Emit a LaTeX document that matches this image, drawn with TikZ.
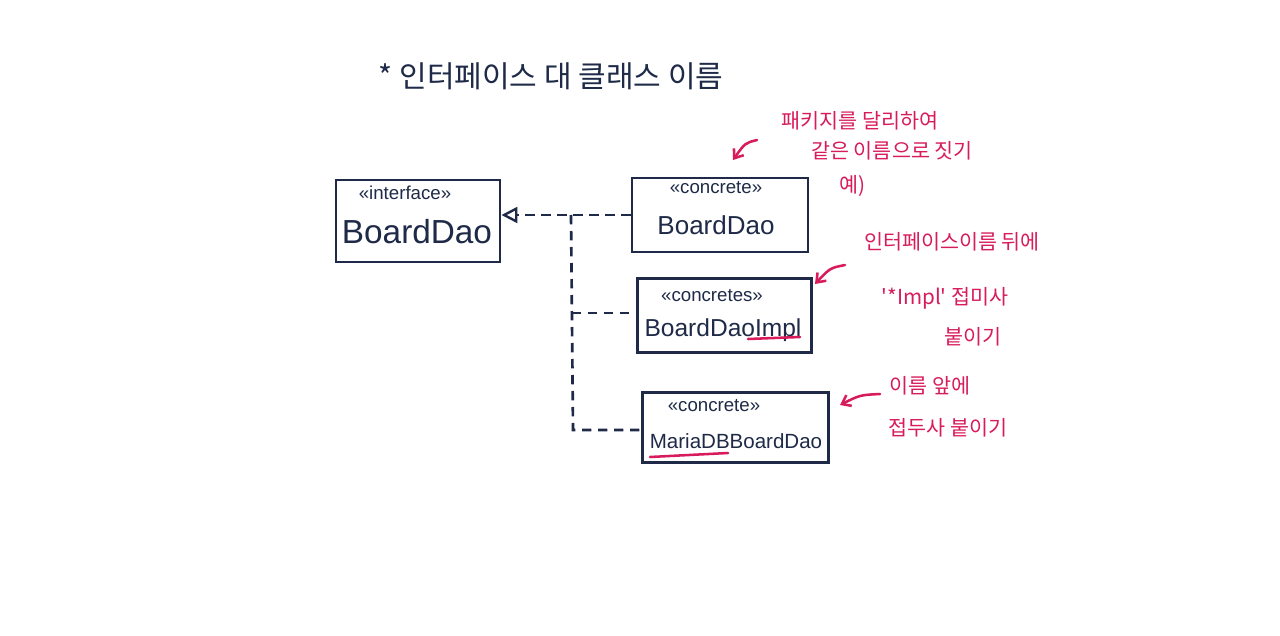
\documentclass[tikz,border=0pt]{standalone}
\usepackage{fontspec}
\setmainfont{Liberation Sans}
\newfontfamily\kr{Noto Sans CJK KR}
\usetikzlibrary{arrows.meta}
\definecolor{ink}{HTML}{1E2A47}
\definecolor{pen}{HTML}{D81B5A}
\begin{document}
\begin{tikzpicture}[x=0.75pt,y=-0.75pt,
  cls/.style={draw=ink,line width=2.2pt,minimum width=#1,inner sep=0pt},
  stereo/.style={text=ink,font=\fontsize{14}{14}\selectfont,inner sep=0pt},
  cname/.style={text=ink,inner sep=0pt},
  note/.style={text=pen,font=\kr\fontsize{15.5}{16}\selectfont,inner sep=0pt},
  realize/.style={draw=ink,line width=2pt,dash pattern=on 7pt off 5pt},
  notearrow/.style={draw=pen,line width=1.9pt,line cap=round,-{Straight Barb[length=6pt,width=9pt]}},
  redline/.style={draw=pen,line width=1.9pt,line cap=round}]
\useasboundingbox[fill=white] (0,0) rectangle (1280,635);
% title
\node[text=ink,font=\kr\fontsize{22.5}{24}\selectfont,inner sep=0pt] (title) at (551,76) {* 인터페이스 대 클래스 이름};
% class boxes
\node[cls=123pt,minimum height=61.5pt] (b1) at (418,221) {};
\node[cls=132pt,minimum height=55.5pt] (b2) at (720,215) {};
\node[cls=131pt,minimum height=56pt] (b3) at (724.5,315.5) {};
\node[cls=139pt,minimum height=53pt] (b4) at (735.5,427.5) {};
% texts
\node[stereo] (s1) at (405,193) {«interface»};
\node[cname,font=\fontsize{25}{25}\selectfont] (n1) at (417,232) {BoardDao};
\node[stereo] (s2) at (716,188) {«concrete»};
\node[cname,font=\fontsize{19.5}{20}\selectfont] (n2) at (716,225) {BoardDao};
\node[stereo] (s3) at (712,296) {«concretes»};
\node[cname,font=\fontsize{18.4}{19}\selectfont] (n3) at (723,330) {BoardDaoImpl};
\node[stereo] (s4) at (714,406) {«concrete»};
\node[cname,font=\fontsize{15.4}{16}\selectfont] (n4) at (736,441) {MariaDBBoardDao};
% red underlines
\coordinate (u1a) at (748,339); \coordinate (u1b) at (800,337);
\coordinate (u2a) at (650,457); \coordinate (u2b) at (728,453);
\draw[redline] (u1a) -- (u1b);
\draw[redline] (u2a) -- (u2b);
% realization connectors
\coordinate (j1) at (571,215);
\coordinate (j2) at (572,313);
\coordinate (j3) at (573,430);
\draw[realize,-{Triangle[open,length=12pt,width=12pt,line width=1.8pt]}] (b2.west) -- (b1.east |- b2.west);
\draw[realize] (j1) -- (j3) -- (b4.west |- j3);
\draw[realize] (j2) -- (b3.west |- j2);
% notes
\node[note] (t1) at (860,121) {패키지를 달리하여};
\node[note] (t2) at (892,151) {같은 이름으로 짓기};
\node[note] (t3) at (852,186) {예)};
\node[note] (t4) at (952,242) {인터페이스이름 뒤에};
\node[note] (t5) at (945,298) {'*Impl' 접미사};
\node[note] (t6) at (973,337) {붙이기};
\node[note] (t7) at (930,386) {이름 앞에};
\node[note] (t8) at (948,428) {접두사 붙이기};
% note arrows
\coordinate (a1s) at (757,140); \coordinate (a1e) at (733,160);
\coordinate (a2s) at (845,265); \coordinate (a2e) at (815,284);
\coordinate (a3s) at (880,394); \coordinate (a3e) at (840,405);
\draw[notearrow] (a1s) .. controls (745,143) .. (a1e);
\draw[notearrow] (a2s) .. controls (830,268) .. (a2e);
\draw[notearrow] (a3s) .. controls (860,395) .. (a3e);
\end{tikzpicture}
\end{document}
